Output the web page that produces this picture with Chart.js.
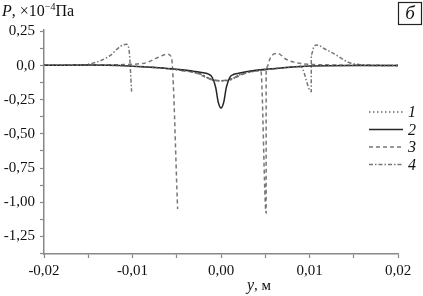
<!DOCTYPE html>
<html>
<head>
<meta charset="utf-8">
<script src="https://cdn.jsdelivr.net/npm/chart.js@4"></script>
<style>
  html, body { margin: 0; padding: 0; background: #fff; }
  #box { width: 423px; height: 296px; }
</style>
</head>
<body>
<div id="box"><canvas id="myChart"></canvas></div>
<script>
// curve 1 (dotted)
const x1 = [-0.02, -0.015, -0.01, -0.007, -0.005, -0.003, -0.002, -0.0015, -0.001, 0, 0.001, 0.0015, 0.002, 0.003, 0.005, 0.007, 0.01, 0.015, 0.02];
const p1 = [0.003, 0.004, -0.004, -0.016, -0.03, -0.05, -0.07, -0.09, -0.105, -0.11, -0.105, -0.09, -0.07, -0.05, -0.03, -0.016, -0.002, 0.002, 0.001];
// curve 2 (solid)
const x2 = [-0.02, -0.015, -0.01, -0.007, -0.005, -0.003, -0.002, -0.0014, -0.001, -0.0006, -0.0003, 0, 0.0003, 0.0006, 0.001, 0.0014, 0.002, 0.003, 0.005, 0.007, 0.01, 0.015, 0.02];
const p2 = [0.003, 0.004, -0.004, -0.015, -0.027, -0.042, -0.052, -0.062, -0.085, -0.16, -0.27, -0.31, -0.27, -0.16, -0.085, -0.065, -0.055, -0.042, -0.027, -0.016, -0.002, 0.002, 0.001];
// curve 3 (dashed)
const x3 = [-0.02, -0.015, -0.011, -0.0095, -0.0084, -0.0073, -0.0064, -0.006, -0.0056, -0.0049, -0.0049, -0.0045, -0.003, -0.0015, 0, 0.0015, 0.003, 0.0045, 0.0051, 0.0051, 0.0056, 0.006, 0.0064, 0.0074, 0.0089, 0.01, 0.012, 0.015, 0.02];
const p3 = [0.003, 0.004, 0.008, 0.012, 0.022, 0.055, 0.08, 0.084, 0.06, -1.05, null, -0.035, -0.05, -0.09, -0.11, -0.09, -0.05, -0.035, -1.08, -0.02, 0.06, 0.086, 0.09, 0.045, 0.017, 0.01, 0.006, 0.003, 0.001];
// curve 4 (dash-dot)
const x4 = [-0.02, -0.016, -0.015, -0.0135, -0.0125, -0.0114, -0.0107, -0.0104, -0.0101, -0.0101, -0.009, -0.007, -0.005, -0.003, -0.002, -0.001, 0, 0.001, 0.002, 0.003, 0.005, 0.007, 0.009, 0.0102, 0.0102, 0.0105, 0.0108, 0.0118, 0.0127, 0.0146, 0.017, 0.02];
const p4 = [0.003, 0.005, 0.01, 0.04, 0.075, 0.14, 0.157, 0.12, -0.19, null, -0.006, -0.016, -0.03, -0.05, -0.07, -0.105, -0.11, -0.105, -0.07, -0.05, -0.03, -0.016, -0.006, -0.19, 0.08, 0.14, 0.152, 0.12, 0.09, 0.02, 0.004, 0.001];

const seriesNames = ['1', '2', '3', '4'];
const xTickVals = [-0.02, -0.015, -0.01, -0.005, 0, 0.005, 0.01, 0.015, 0.02];
const xTickText = ['-0,02', '', '-0,01', '', '0,00', '', '0,01', '', '0,02'];
const yTickVals = [0.25, 0.125, 0, -0.125, -0.25, -0.375, -0.5, -0.625, -0.75, -0.875, -1, -1.125, -1.25, -1.375];
const yTickText = ['0,25', '', '0,0', '', '-0,25', '', '-0,50', '', '-0,75', '', '-1,00', '', '-1,25', ''];

const serif = "'Liberation Serif', 'Times New Roman', serif";
const pts = (xs, ys) => xs.map((x, i) => ({ x: x, y: ys[i] }));

const styles = [
    { color: '#6a6a6a', dash: [1.5, 2.5], width: 1.5 },
    { color: '#262626', dash: [], width: 1.5 },
    { color: '#777777', dash: [4, 3], width: 1.5 },
    { color: '#777777', dash: [4, 2, 1.5, 2], width: 1.5 },
];
const allData = [pts(x1, p1), pts(x2, p2), pts(x3, p3), pts(x4, p4)];

const extras = {
    id: 'extras',
    afterDraw(chart) {
        const c = chart.ctx;
        c.save();
        c.fillStyle = '#111';
        c.textBaseline = 'alphabetic';
        // y-axis title
        let x = 2;
        c.font = 'italic 16px ' + serif;
        c.fillText('P', x, 16); x += c.measureText('P').width;
        c.font = '16px ' + serif;
        c.fillText(', ×10', x, 16); x += c.measureText(', ×10').width;
        c.font = '10px ' + serif;
        c.fillText('−4', x, 10); x += c.measureText('−4').width;
        c.font = '16px ' + serif;
        c.fillText('Па', x, 16);
        // x-axis title
        x = 247;
        c.font = 'italic 16px ' + serif;
        c.fillText('y', x, 290); x += c.measureText('y').width;
        c.font = '15px ' + serif;
        c.fillText(', м', x, 290);
        // panel letter
        c.strokeStyle = '#222';
        c.lineWidth = 1.2;
        c.strokeRect(398.5, 2.5, 23, 22);
        c.font = 'italic 19px ' + serif;
        c.textAlign = 'center';
        c.fillText('б', 410, 19);
        // legend
        c.textAlign = 'left';
        c.font = 'italic 16px ' + serif;
        const rowY = [112, 129.5, 147, 164.5];
        seriesNames.forEach((name, i) => {
            const s = styles[i];
            c.beginPath();
            c.setLineDash(s.dash);
            c.strokeStyle = s.color;
            c.lineWidth = s.width;
            c.moveTo(369, rowY[i]);
            c.lineTo(403, rowY[i]);
            c.stroke();
            c.setLineDash([]);
            c.fillText(name, 408, rowY[i] + 5);
        });
        c.restore();
    }
};

const ctx = document.getElementById('myChart').getContext('2d');

new Chart(ctx, {
    type: 'line',
    data: {
        datasets: allData.map((d, i) => ({
            label: seriesNames[i],
            data: d,
            borderColor: styles[i].color,
            borderDash: styles[i].dash,
            borderWidth: styles[i].width,
            pointRadius: 0,
            fill: false,
            spanGaps: false,
            cubicInterpolationMode: 'monotone',
        })),
    },
    options: {
        responsive: true,
        maintainAspectRatio: false,
        animation: false,
        layout: { padding: { top: 29.5, right: 25, left: 0, bottom: 0 } },
        plugins: { legend: { display: false }, tooltip: { enabled: false } },
        scales: {
            x: {
                type: 'linear',
                min: -0.02,
                max: 0.02,
                afterBuildTicks: (s) => { s.ticks = xTickVals.map(v => ({ value: v })); },
                afterFit: (s) => { s.height = 42; },
                ticks: {
                    autoSkip: false,
                    maxRotation: 0,
                    padding: 4,
                    color: '#111',
                    font: { family: serif, size: 15 },
                    callback: (v, i) => xTickText[i],
                },
                grid: { drawOnChartArea: false, tickLength: 4, color: '#888', tickWidth: 1.2 },
                border: { color: '#888', width: 1.5 },
            },
            y: {
                type: 'linear',
                min: -1.38,
                max: 0.265,
                afterBuildTicks: (s) => { s.ticks = yTickVals.map(v => ({ value: v })); },
                afterFit: (s) => { s.width = 44; },
                ticks: {
                    autoSkip: false,
                    padding: 5,
                    color: '#111',
                    font: { family: serif, size: 15 },
                    callback: (v, i) => yTickText[i],
                },
                grid: { drawOnChartArea: false, tickLength: 4, color: '#888', tickWidth: 1.2 },
                border: { color: '#888', width: 1.5 },
            },
        },
    },
    plugins: [extras],
});
</script>
</body>
</html>
